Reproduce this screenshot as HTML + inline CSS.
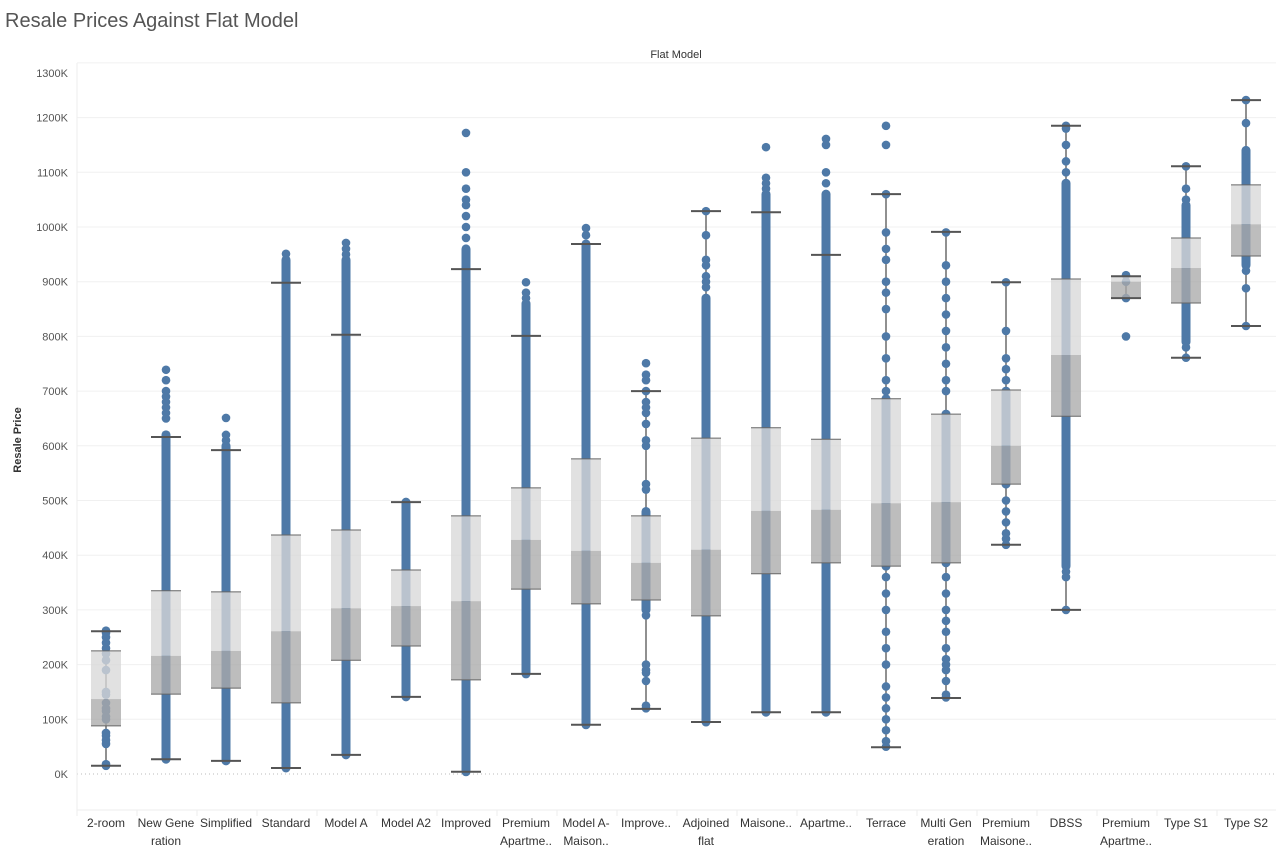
<!DOCTYPE html>
<html><head><meta charset="utf-8"><style>
body{margin:0;background:#fff;font-family:"Liberation Sans",sans-serif;}
svg text{font-family:"Liberation Sans",sans-serif;}
</style></head><body>
<svg id="chart" width="1276" height="849" xmlns="http://www.w3.org/2000/svg">
<text x="5" y="27" font-size="20" fill="#555">Resale Prices Against Flat Model</text>
<text x="676" y="58" font-size="11" fill="#333" text-anchor="middle">Flat Model</text>
<text transform="translate(21,440) rotate(-90)" font-size="11" font-weight="bold" fill="#333" text-anchor="middle">Resale Price</text>
<g id="grid"></g><g id="marks"></g><g id="axes"></g>
</svg>
<script>
const categories=[["2-room"],["New Gene","ration"],["Simplified"],["Standard"],["Model A"],["Model A2"],["Improved"],["Premium","Apartme.."],["Model A-","Maison.."],["Improve.."],["Adjoined","flat"],["Maisone.."],["Apartme.."],["Terrace"],["Multi Gen","eration"],["Premium","Maisone.."],["DBSS"],["Premium","Apartme.."],["Type S1"],["Type S2"]];
const whiskerHigh=[261,616,592,898,803,497,923,801,969,700,1029,1027,949,1060,991,899,1185,910,1111,1232];
const q3=[225,335,333,437,446,373,472,523,576,472,614,633,612,686,658,702,905,910,980,1077];
const median=[137,216,225,261,303,307,316,428,408,386,410,481,483,495,497,600,766,900,925,1005];
const q1=[88,146,157,130,208,234,172,338,311,318,289,366,386,380,386,530,654,870,861,947];
const whiskerLow=[15,27,24,11,35,141,4,183,90,119,95,113,113,49,139,419,300,870,761,819];
const denseLo=[null,27,24,11,35,141,4,183,90,300,95,113,113,380,386,530,380,null,790,930];
const denseHi=[null,620,600,940,940,497,960,860,969,480,870,1060,1060,686,658,700,1080,null,1040,1140];
const outliers=[
[18,15,55,62,70,75,100,105,115,120,130,145,150,190,208,220,230,240,250,258,262],
[650,660,670,680,690,700,720,739],
[610,620,651],
[951],
[950,960,971],
[],
[980,1000,1020,1040,1050,1070,1100,1172],
[870,880,899],
[985,998],
[120,125,170,185,190,200,290,300,330,520,530,600,610,640,660,670,680,700,720,730,751],
[890,900,910,930,940,985,1029],
[1070,1080,1090,1146],
[1060,1080,1100,1150,1161],
[50,60,80,100,120,140,160,200,230,260,300,330,360,700,720,760,800,850,880,900,940,960,990,1060,1150,1185],
[140,145,170,190,200,210,230,260,280,300,330,360,700,720,750,780,810,840,870,900,930,990],
[419,430,440,460,480,500,720,740,760,810,899],
[300,360,370,1100,1120,1150,1180,1185],
[912,900,870,800],
[761,780,790,1050,1070,1111],
[819,888,920,1120,1140,1190,1232]
];
const yTicks=[0,100,200,300,400,500,600,700,800,900,1000,1100,1200,1300];
const NS="http://www.w3.org/2000/svg";
const plotL=77,plotR=1276,plotT=63,plotB=810,colW=60;
const y=v=>774-v*0.547;
const x=i=>plotL+colW*i+colW/2-1;
function mk(tag,attrs,parent){const e=document.createElementNS(NS,tag);for(const k in attrs)e.setAttribute(k,attrs[k]);parent.appendChild(e);return e;}
const grid=document.getElementById('grid'),marks=document.getElementById('marks'),axes=document.getElementById('axes');
yTicks.forEach(t=>{
  if(t>0){const g=mk('line',{x1:plotL,x2:plotR,y1:y(t),y2:y(t),stroke:'#f0f0f0','stroke-width':1},grid);
  
  }
  const lab=mk('text',{x:68,y:Math.max(y(t),73)+4,'font-size':11,fill:'#555','text-anchor':'end'},axes);
  lab.textContent=t+'K';
  
  
});
const zl=mk('line',{x1:plotL,x2:plotR,y1:y(0),y2:y(0),stroke:'#bbb','stroke-dasharray':'1,3'},grid);


mk('line',{x1:plotL,x2:plotL,y1:plotT,y2:plotB,stroke:'#eee'},grid);
mk('line',{x1:plotL,x2:plotR,y1:plotB,y2:plotB,stroke:'#eee'},grid);
categories.forEach((c,i)=>{
  const cx=x(i);
  mk('line',{x1:plotL+colW*i,x2:plotL+colW*i,y1:plotB,y2:plotB+6,stroke:'#eee'},grid);
  const g=mk('g',{},marks);
  
  
  // whisker line
  mk('line',{x1:cx,x2:cx,y1:y(whiskerHigh[i]),y2:y(whiskerLow[i]),stroke:'#555','stroke-width':1.3},g);
  // dense points
  if(denseLo[i]!==null){
    const d=mk('rect',{x:cx-4.5,y:y(denseHi[i])-4.5,width:9,height:y(denseLo[i])-y(denseHi[i])+9,rx:4.5,fill:'#4e79a7'},g);
    
    
  }
  outliers[i].forEach(v=>{
    const p=mk('circle',{cx:cx,cy:y(v),r:4.3,fill:'#4e79a7'},g);
    
    
  });
  // box
  const b1=mk('rect',{x:cx-15,y:y(q3[i]),width:30,height:y(median[i])-y(q3[i]),fill:'#d9d9d9','fill-opacity':0.78},g);
  
  
  const b2=mk('rect',{x:cx-15,y:y(median[i]),width:30,height:y(q1[i])-y(median[i]),fill:'#ababab','fill-opacity':0.78},g);
  
  
  [q3[i],q1[i]].forEach(v=>mk('line',{x1:cx-15,x2:cx+15,y1:y(v),y2:y(v),stroke:'#666','stroke-width':1},g));
  [whiskerHigh[i],whiskerLow[i]].forEach(v=>mk('line',{x1:cx-15,x2:cx+15,y1:y(v),y2:y(v),stroke:'#555','stroke-width':2},g));
  c.forEach((ln,k)=>{
    const t=mk('text',{x:cx,y:827+k*18,'font-size':12,fill:'#333','text-anchor':'middle'},axes);
    t.textContent=ln;
    
    
  });
});
</script>
</body></html>
